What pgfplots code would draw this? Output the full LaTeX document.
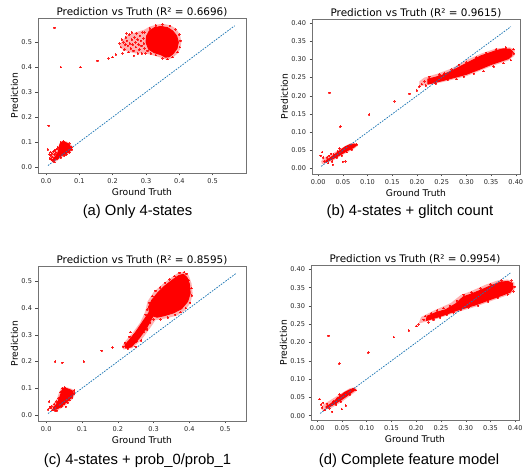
\documentclass[border=0pt]{standalone}
\usepackage{fontspec}
\setmainfont{DejaVu Sans}
\newfontfamily\capfont{Liberation Sans}
\usepackage{pgfplots}
\pgfplotsset{compat=1.18}
\definecolor{tabblue}{HTML}{1F77B4}

\pgfplotsset{
  pvt/.style={
    scale only axis, width=208pt, height=155pt,
    axis line style={black!55, line width=0.8pt},
    tick style={black!70, line width=0.5pt},
    tick align=outside, major tick length=2.5pt,
    xtick pos=bottom, ytick pos=left,
    ticklabel style={font=\fontsize{6.6}{7}\selectfont, text=black!85},
    label style={font=\fontsize{9.2}{10}\selectfont},
    title style={font=\fontsize{10.4}{12}\selectfont, yshift=-8.5pt},
    xlabel={Ground Truth}, ylabel={Prediction},
    xlabel shift=-2pt, ylabel shift=-3.5pt,
    clip=true,
  },
  one/.style={
    xticklabel={\pgfmathprintnumber[fixed,fixed zerofill,precision=1,assume math mode=true]{\tick}},
    yticklabel={\pgfmathprintnumber[fixed,fixed zerofill,precision=1,assume math mode=true]{\tick}},
    xtick={0,0.1,0.2,0.3,0.4,0.5}, ytick={0,0.1,0.2,0.3,0.4,0.5},
  },
  two/.style={
    xticklabel={\pgfmathprintnumber[fixed,fixed zerofill,precision=2,assume math mode=true]{\tick}},
    yticklabel={\pgfmathprintnumber[fixed,fixed zerofill,precision=2,assume math mode=true]{\tick}},
    xtick={0,0.05,0.1,0.15,0.2,0.25,0.3,0.35,0.4},
    ytick={0,0.05,0.1,0.15,0.2,0.25,0.3,0.35,0.4},
  },
  halo/.style={fill=red, fill opacity=0.3, draw=none},
  blob/.style={fill=red, draw=red, line width=1pt, line join=round},
  pts/.style={only marks, color=red, mark=*, mark size=0.8pt, mark options={draw=red, fill=red, line width=0pt}, opacity=0.6},
  diag/.style={color=tabblue, dash pattern=on 1.6pt off 1.2pt, line width=0.75pt},
}

\begin{document}
\begin{tikzpicture}
\path[use as bounding box] (0,0) rectangle (528pt,468pt);

% (a) only 4-states
\begin{axis}[pvt, one, at={(38pt,295pt)}, anchor=south west,
  xmin=-0.024, xmax=0.600, ymin=-0.024, ymax=0.597,
  title={Prediction vs Truth (R² = 0.6696)}]
\addplot[halo] coordinates {(0.220,0.490)(0.240,0.525)(0.270,0.540)(0.295,0.550)(0.310,0.562)(0.330,0.570)(0.350,0.574)(0.372,0.568)(0.390,0.555)(0.402,0.530)(0.406,0.500)(0.403,0.475)(0.395,0.455)(0.378,0.436)(0.362,0.430)(0.345,0.438)(0.320,0.448)(0.300,0.455)(0.270,0.455)(0.245,0.462)(0.225,0.475)};
\addplot[halo] coordinates {(0.012,0.040)(0.018,0.060)(0.030,0.072)(0.038,0.085)(0.042,0.098)(0.050,0.105)(0.062,0.102)(0.072,0.095)(0.079,0.082)(0.079,0.068)(0.072,0.056)(0.060,0.048)(0.045,0.036)(0.030,0.022)(0.020,0.020)(0.012,0.028)};
\addplot[blob] coordinates {(0.300,0.500)(0.302,0.525)(0.310,0.545)(0.325,0.558)(0.345,0.563)(0.365,0.558)(0.380,0.545)(0.392,0.525)(0.397,0.500)(0.393,0.475)(0.382,0.455)(0.370,0.442)(0.358,0.440)(0.345,0.450)(0.325,0.458)(0.308,0.472)(0.300,0.500)};
\addplot[blob] coordinates {(0.040,0.080)(0.042,0.092)(0.048,0.099)(0.056,0.100)(0.062,0.096)(0.068,0.090)(0.073,0.082)(0.075,0.072)(0.070,0.062)(0.060,0.055)(0.050,0.048)(0.040,0.040)(0.030,0.030)(0.024,0.026)(0.022,0.032)(0.028,0.042)(0.035,0.055)(0.038,0.068)(0.040,0.080)};
\addplot[pts] coordinates {
(0.220,0.495)(0.225,0.480)(0.228,0.510)(0.232,0.500)(0.235,0.470)(0.238,0.490)(0.240,0.520)(0.243,0.505)(0.246,0.485)(0.248,0.460)
(0.250,0.530)(0.252,0.495)(0.255,0.475)(0.258,0.510)(0.260,0.490)(0.262,0.465)(0.265,0.520)(0.268,0.500)(0.270,0.480)(0.272,0.535)
(0.275,0.510)(0.278,0.490)(0.280,0.470)(0.282,0.525)(0.285,0.505)(0.287,0.485)(0.290,0.540)(0.292,0.515)(0.294,0.495)(0.296,0.475)
(0.298,0.455)(0.288,0.455)(0.276,0.455)(0.264,0.445)(0.242,0.535)(0.258,0.540)(0.230,0.455)
(0.330,0.568)(0.350,0.572)(0.372,0.565)(0.388,0.552)(0.400,0.530)(0.404,0.505)(0.402,0.480)(0.395,0.460)(0.380,0.440)(0.365,0.432)
(0.350,0.435)(0.330,0.448)(0.315,0.455)(0.305,0.465)(0.296,0.540)(0.312,0.556)
(0.025,0.557)(0.045,0.400)(0.103,0.400)(0.155,0.425)(0.188,0.435)(0.200,0.440)(0.210,0.450)(0.008,0.165)(0.006,0.070)
(0.015,0.045)(0.018,0.055)(0.020,0.040)(0.022,0.062)(0.025,0.050)(0.027,0.068)(0.030,0.058)(0.032,0.072)(0.034,0.048)(0.036,0.078)
(0.012,0.035)(0.016,0.030)(0.020,0.025)(0.026,0.020)(0.034,0.034)(0.045,0.038)(0.055,0.045)(0.062,0.050)(0.070,0.058)(0.078,0.070)
(0.077,0.080)(0.070,0.095)(0.052,0.104)(0.045,0.100)(0.014,0.060)(0.010,0.050)};
\addplot[diag] coordinates {(0.006,0.006)(0.566,0.566)};
\end{axis}

% (b) 4-states + glitch count
\begin{axis}[pvt, two, at={(312pt,294pt)}, anchor=south west,
  xmin=-0.0125, xmax=0.4085, ymin=-0.015, ymax=0.411,
  title={Prediction vs Truth (R² = 0.9615)}]
\addplot[halo] coordinates {(0.205,0.226)(0.250,0.237)(0.300,0.254)(0.350,0.281)(0.385,0.297)(0.397,0.310)(0.398,0.326)(0.388,0.333)(0.360,0.330)(0.330,0.316)(0.300,0.298)(0.270,0.275)(0.240,0.260)(0.215,0.250)(0.205,0.240)};
\addplot[halo] coordinates {(0.008,0.012)(0.030,0.022)(0.050,0.038)(0.070,0.052)(0.080,0.062)(0.078,0.070)(0.066,0.070)(0.050,0.058)(0.030,0.042)(0.012,0.030)(0.006,0.020)};
\addplot[blob] coordinates {(0.222,0.232)(0.250,0.241)(0.275,0.250)(0.300,0.259)(0.325,0.272)(0.350,0.286)(0.370,0.295)(0.385,0.302)(0.392,0.310)(0.393,0.322)(0.388,0.328)(0.375,0.329)(0.360,0.324)(0.345,0.317)(0.330,0.310)(0.310,0.296)(0.290,0.282)(0.270,0.268)(0.250,0.256)(0.235,0.250)(0.222,0.246)(0.222,0.232)};
\addplot[blob] coordinates {(0.015,0.017)(0.030,0.027)(0.045,0.038)(0.060,0.050)(0.072,0.058)(0.076,0.063)(0.074,0.067)(0.065,0.066)(0.055,0.060)(0.045,0.050)(0.035,0.040)(0.025,0.030)(0.016,0.022)(0.015,0.017)};
\addplot[pts] coordinates {
(0.210,0.232)(0.215,0.240)(0.218,0.228)(0.225,0.252)(0.230,0.238)(0.238,0.233)(0.245,0.258)(0.255,0.262)(0.262,0.244)(0.270,0.273)
(0.280,0.246)(0.285,0.285)(0.295,0.252)(0.300,0.292)(0.315,0.260)(0.320,0.305)(0.335,0.268)(0.340,0.318)(0.355,0.280)(0.360,0.328)
(0.375,0.290)(0.380,0.333)(0.390,0.298)(0.396,0.316)(0.395,0.328)(0.205,0.225)(0.232,0.245)(0.242,0.250)
(0.023,0.208)(0.045,0.115)(0.103,0.148)(0.155,0.185)(0.185,0.205)(0.200,0.215)
(0.005,0.035)(0.008,0.045)(0.010,0.030)(0.012,0.020)(0.018,0.030)(0.020,0.015)(0.022,0.035)(0.028,0.020)(0.030,0.010)(0.032,0.038)
(0.038,0.030)(0.040,0.047)(0.048,0.035)(0.050,0.018)(0.055,0.020)(0.058,0.045)(0.062,0.060)(0.068,0.052)(0.078,0.066)(0.043,0.055)(0.026,0.040)};
\addplot[diag] coordinates {(0.006,0.006)(0.390,0.390)};
\end{axis}

% (c) 4-states + prob_0/prob_1
\begin{axis}[pvt, one, at={(38pt,47pt)}, anchor=south west,
  xmin=-0.023, xmax=0.558, ymin=-0.023, ymax=0.558,
  title={Prediction vs Truth (R² = 0.8595)}]
\addplot[halo] coordinates {(0.215,0.245)(0.240,0.250)(0.265,0.280)(0.290,0.325)(0.305,0.355)(0.335,0.362)(0.365,0.372)(0.388,0.392)(0.403,0.420)(0.409,0.455)(0.406,0.492)(0.398,0.522)(0.387,0.535)(0.370,0.534)(0.350,0.515)(0.325,0.490)(0.300,0.460)(0.283,0.425)(0.276,0.385)(0.262,0.345)(0.240,0.305)(0.220,0.275)(0.212,0.258)};
\addplot[halo] coordinates {(0.015,0.015)(0.032,0.016)(0.048,0.030)(0.062,0.045)(0.074,0.060)(0.080,0.075)(0.080,0.092)(0.070,0.098)(0.055,0.104)(0.042,0.102)(0.036,0.085)(0.030,0.060)(0.020,0.042)(0.012,0.028)};
\addplot[blob] coordinates {(0.288,0.385)(0.295,0.372)(0.310,0.366)(0.330,0.372)(0.355,0.382)(0.378,0.398)(0.395,0.425)(0.402,0.455)(0.400,0.490)(0.393,0.515)(0.383,0.527)(0.370,0.522)(0.352,0.505)(0.330,0.482)(0.310,0.455)(0.295,0.430)(0.286,0.405)(0.288,0.385)};
\addplot[blob] coordinates {(0.222,0.250)(0.238,0.255)(0.258,0.285)(0.280,0.325)(0.298,0.370)(0.288,0.385)(0.270,0.350)(0.250,0.310)(0.232,0.280)(0.220,0.262)(0.222,0.250)};
\addplot[blob] coordinates {(0.020,0.020)(0.030,0.022)(0.045,0.035)(0.058,0.050)(0.068,0.062)(0.075,0.075)(0.075,0.088)(0.068,0.093)(0.058,0.098)(0.048,0.100)(0.044,0.092)(0.040,0.075)(0.035,0.055)(0.028,0.038)(0.020,0.028)(0.020,0.020)};
\addplot[pts] coordinates {
(0.215,0.255)(0.220,0.270)(0.228,0.248)(0.232,0.292)(0.240,0.265)(0.245,0.300)(0.252,0.275)(0.258,0.318)(0.262,0.295)(0.268,0.335)
(0.272,0.310)(0.276,0.350)(0.282,0.320)(0.284,0.365)(0.290,0.345)(0.278,0.375)(0.282,0.395)(0.288,0.420)(0.296,0.445)(0.305,0.465)
(0.318,0.478)(0.332,0.495)(0.345,0.508)(0.358,0.520)(0.372,0.532)(0.385,0.535)(0.392,0.528)(0.398,0.505)(0.405,0.475)(0.407,0.448)
(0.402,0.420)(0.390,0.400)(0.375,0.385)(0.360,0.375)(0.340,0.365)(0.320,0.358)(0.300,0.358)(0.235,0.310)(0.250,0.255)(0.265,0.278)
(0.025,0.200)(0.045,0.195)(0.105,0.200)(0.155,0.240)(0.185,0.252)(0.008,0.050)(0.005,0.020)(0.010,0.030)
(0.012,0.025)(0.015,0.032)(0.018,0.018)(0.022,0.040)(0.025,0.015)(0.028,0.050)(0.032,0.030)(0.035,0.062)(0.038,0.045)(0.040,0.085)
(0.042,0.030)(0.050,0.040)(0.055,0.030)(0.060,0.045)(0.065,0.055)(0.072,0.065)(0.078,0.080)(0.078,0.092)(0.052,0.103)(0.045,0.100)(0.030,0.015)};
\addplot[diag] coordinates {(0.005,0.005)(0.530,0.530)};
\end{axis}

% (d) complete feature model
\begin{axis}[pvt, two, at={(311pt,48pt)}, anchor=south west,
  xmin=-0.0125, xmax=0.4075, ymin=-0.012, ymax=0.412,
  title={Prediction vs Truth (R² = 0.9954)}]
\addplot[halo] coordinates {(0.205,0.252)(0.240,0.264)(0.280,0.282)(0.320,0.298)(0.360,0.318)(0.390,0.332)(0.399,0.346)(0.398,0.364)(0.385,0.372)(0.365,0.370)(0.340,0.358)(0.310,0.340)(0.290,0.330)(0.270,0.308)(0.240,0.290)(0.210,0.270)};
\addplot[halo] coordinates {(0.010,0.014)(0.030,0.022)(0.050,0.038)(0.070,0.058)(0.080,0.068)(0.078,0.078)(0.066,0.075)(0.050,0.062)(0.030,0.045)(0.012,0.030)(0.008,0.020)};
\addplot[blob] coordinates {(0.220,0.260)(0.240,0.268)(0.260,0.277)(0.280,0.287)(0.300,0.295)(0.320,0.303)(0.350,0.318)(0.375,0.330)(0.390,0.338)(0.395,0.348)(0.394,0.362)(0.385,0.367)(0.370,0.365)(0.350,0.355)(0.330,0.343)(0.310,0.332)(0.295,0.325)(0.280,0.306)(0.260,0.290)(0.240,0.282)(0.222,0.272)(0.220,0.260)};
\addplot[blob] coordinates {(0.018,0.020)(0.030,0.028)(0.045,0.040)(0.058,0.052)(0.070,0.064)(0.076,0.070)(0.074,0.074)(0.065,0.070)(0.055,0.063)(0.045,0.052)(0.035,0.040)(0.025,0.030)(0.018,0.025)(0.018,0.020)};
\addplot[pts] coordinates {
(0.215,0.262)(0.218,0.272)(0.225,0.255)(0.230,0.280)(0.235,0.262)(0.242,0.288)(0.248,0.268)(0.255,0.294)(0.262,0.276)(0.268,0.300)
(0.275,0.282)(0.282,0.314)(0.290,0.290)(0.296,0.330)(0.305,0.296)(0.312,0.336)(0.325,0.300)(0.330,0.348)(0.345,0.312)(0.350,0.360)
(0.365,0.322)(0.372,0.370)(0.385,0.332)(0.392,0.370)(0.398,0.352)(0.397,0.340)(0.205,0.250)(0.200,0.245)
(0.023,0.218)(0.045,0.142)(0.103,0.172)(0.155,0.215)(0.185,0.233)
(0.005,0.045)(0.008,0.030)(0.010,0.022)(0.012,0.035)(0.015,0.015)(0.020,0.032)(0.025,0.020)(0.030,0.010)(0.032,0.038)(0.038,0.030)
(0.040,0.048)(0.048,0.038)(0.050,0.018)(0.058,0.027)(0.060,0.062)(0.066,0.058)(0.072,0.072)(0.078,0.070)(0.045,0.058)};
\addplot[diag] coordinates {(0.006,0.006)(0.390,0.390)};
\end{axis}

\node[font=\capfont\fontsize{14.8}{17}\selectfont] at (137.5pt,256pt) {(a) Only 4-states};
\node[font=\capfont\fontsize{14.8}{17}\selectfont] at (410pt,256pt) {(b) 4-states + glitch count};
\node[font=\capfont\fontsize{14.8}{17}\selectfont] at (137.5pt,7pt) {(c) 4-states + prob\_0/prob\_1};
\node[font=\capfont\fontsize{14.8}{17}\selectfont] at (409pt,7pt) {(d) Complete feature model};
\end{tikzpicture}
\end{document}
